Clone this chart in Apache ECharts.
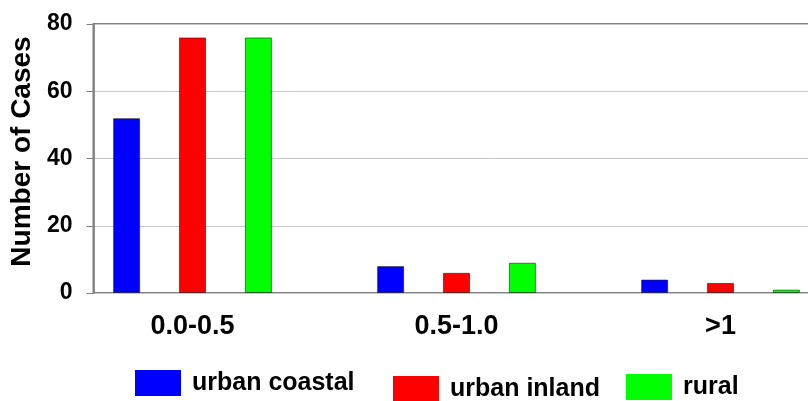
<!DOCTYPE html>
<html>
<head>
<meta charset="utf-8">
<script src="https://cdn.jsdelivr.net/npm/echarts@6/dist/echarts.min.js"></script>
<style>html,body{margin:0;padding:0;background:#fff;overflow:hidden;width:808px;height:401px;}#c{width:900px;height:401px;}</style>
</head>
<body>
<div id="c"></div>
<script>
const categories = ['0.0-0.5', '0.5-1.0', '>1'];
const seriesNames = ['urban coastal', 'urban inland', 'rural'];
const urbanCoastal = [52, 8, 4];
const urbanInland = [76, 6, 3];
const rural = [76, 9, 1];
const yTicks = [0, 20, 40, 60, 80];

const FONT = '"Liberation Sans", Arial, Helvetica, sans-serif';
const colors = ['#0000ff', '#ff0000', '#00ff00'];
const values = [urbanCoastal, urbanInland, rural];

const chart = echarts.init(document.getElementById('c'), null, {renderer: 'canvas'});

const legendPos = [
  {left: 135, top: 370},
  {left: 393, top: 376},
  {left: 626, top: 374}
];

chart.setOption({
  backgroundColor: '#ffffff',
  animation: false,
  grid: [
    {left: 93, top: 24, width: 800, height: 269, show: true, borderColor: '#808080', borderWidth: 2, backgroundColor: 'transparent', containLabel: false},
    {left: 60.5, top: 24, width: 792, height: 269, show: false, containLabel: false}
  ],
  xAxis: [
    {gridIndex: 0, type: 'value', min: 0, max: 1, show: false},
    {gridIndex: 1, type: 'category', data: categories,
      axisLine: {show: false}, axisTick: {show: false},
      axisLabel: {margin: 20, fontFamily: FONT, fontWeight: 'bold', fontSize: 27, color: '#000'}}
  ],
  yAxis: [
    {gridIndex: 0, type: 'value', min: yTicks[0], max: yTicks[yTicks.length - 1], interval: 20,
      name: 'Number of Cases', nameLocation: 'middle', nameGap: 46,
      nameTextStyle: {fontFamily: FONT, fontWeight: 'bold', fontSize: 28, color: '#000', padding: [0, 0, 0, 14]},
      axisLine: {show: true, lineStyle: {color: '#808080', width: 1.5}},
      axisTick: {show: true, length: 7, lineStyle: {color: '#808080', width: 1}},
      axisLabel: {margin: 21, fontFamily: FONT, fontWeight: 'bold', fontSize: 23, color: '#000'},
      splitLine: {show: true, lineStyle: {color: '#c8c8c8', width: 1}}},
    {gridIndex: 1, type: 'value', min: yTicks[0], max: yTicks[yTicks.length - 1], show: false}
  ],
  legend: seriesNames.map((n, i) => ({
    data: [n], left: legendPos[i].left, top: legendPos[i].top, padding: 0,
    itemWidth: 46, itemHeight: 26, icon: 'rect',
    itemStyle: {borderWidth: 0},
    textStyle: {fontFamily: FONT, fontWeight: 'bold', fontSize: 25, color: '#000', lineHeight: 26, padding: [0, 0, 0, 6]}
  })),
  series: seriesNames.map((n, i) => ({
    name: n, type: 'bar', xAxisIndex: 1, yAxisIndex: 1,
    data: values[i], barWidth: 27, barGap: '144%',
    itemStyle: {color: colors[i], borderColor: 'rgba(0,0,0,0.5)', borderWidth: 1}
  }))
});
</script>
</body>
</html>
